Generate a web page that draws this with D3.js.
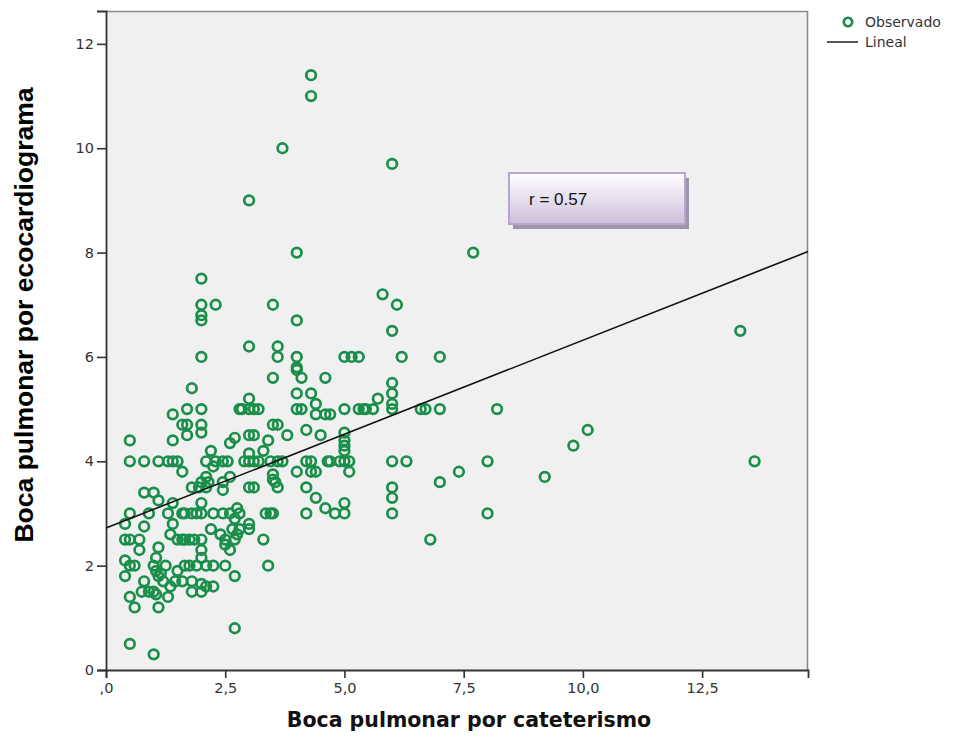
<!DOCTYPE html>
<meta charset="utf-8">
<script src="https://d3js.org/d3.v7.min.js"></script>
<style>
  body { margin: 0; background: #fff; }
  text { font-family: "DejaVu Sans", sans-serif; }
</style>
<div id="my_dataviz"></div>
<script>

// x = boca pulmonar por cateterismo, y = boca pulmonar por ecocardiograma
var cateterismo = [
  0.4,0.4,0.5,0.4,0.4,0.5,0.5,0.5,0.5,0.6,0.5,0.6,0.5,0.7,
  0.7,0.8,0.8,0.8,0.8,0.75,0.9,0.9,
  1.0,1.1,1.1,1.0,1.1,1.05,1.0,1.05,1.1,1.15,1.0,1.05,1.1,1.2,1.25,
  1.3,1.5,1.4,1.4,1.4,1.4,1.3,1.3,1.35,1.45,1.5,1.4,1.35,1.5,
  1.6,1.7,1.7,1.7,1.8,1.6,1.6,1.65,1.8,1.9,1.6,1.65,1.75,1.85,1.65,1.75,1.9,1.6,1.8,1.8,1.8,1.95,
  2.0,2.0,2.0,2.0,2.0,2.0,2.0,2.0,2.0,2.0,2.0,2.0,2.0,2.0,2.0,2.0,
  2.3,2.2,2.1,2.3,2.45,2.55,2.25,2.1,2.15,2.1,2.45,2.6,2.45,2.25,2.45,2.1,2.25,2.5,2.1,2.25,2.2,2.4,2.5,
  2.6,2.7,2.6,2.75,2.8,2.85,2.8,2.9,2.7,2.65,2.7,2.75,2.8,2.7,2.7,2.6,2.5,
  3.0,3.0,3.0,3.0,3.1,3.2,3.0,3.1,3.0,3.0,3.1,3.2,3.0,3.1,3.0,3.0,
  3.3,3.4,3.45,3.6,3.7,3.5,3.5,3.55,3.6,3.35,3.45,3.5,3.3,3.4,3.5,3.5,3.6,3.6,3.6,3.5,3.7,
  3.8,4.0,4.0,4.0,4.0,4.0,4.1,4.0,4.0,4.1,4.2,4.0,4.2,4.2,4.2,
  4.3,4.3,4.3,4.4,4.4,4.6,4.5,4.3,4.3,4.4,4.65,4.4,4.6,4.6,4.7,4.7,
  4.8,5.0,5.0,4.9,5.0,5.1,5.1,5.0,5.0,5.0,5.0,5.0,5.3,5.4,5.45,5.0,5.15,5.3,5.6,5.7,
  5.8,6.1,6.0,6.0,6.2,6.0,6.0,6.0,6.0,6.6,6.7,7.0,7.0,6.0,6.3,6.0,6.0,6.0,7.0,6.8,
  7.7,7.4,8.0,8.2,8.0,9.2,9.8,10.1,13.3,13.6
];
var ecocardiograma = [
  2.8,2.5,2.5,2.1,1.8,4.4,4.0,3.0,1.4,1.2,0.5,2.0,2.0,2.5,
  2.3,4.0,3.4,2.75,1.7,1.5,3.0,1.5,
  3.4,4.0,3.25,0.3,2.35,2.15,2.0,1.9,1.8,1.85,1.5,1.45,1.2,1.7,2.0,
  4.0,4.0,4.0,4.9,4.4,2.8,3.0,1.4,1.6,1.7,2.5,3.2,2.6,1.9,
  4.7,4.7,4.5,5.0,5.4,3.8,3.0,3.0,3.0,3.0,2.5,2.5,2.5,2.5,2.0,2.0,2.0,1.7,1.7,1.5,3.5,3.5,
  7.5,7.0,6.8,6.7,6.0,5.0,4.7,4.55,3.6,3.2,3.0,2.5,2.3,2.15,1.65,1.5,
  7.0,4.2,4.0,4.0,4.0,4.0,3.9,3.7,3.6,3.5,3.6,3.7,3.45,3.0,3.0,2.0,2.0,2.0,1.6,1.6,2.7,2.6,2.5,
  4.35,4.45,3.0,3.1,3.0,5.0,5.0,4.0,2.9,2.7,2.5,2.6,2.7,1.8,0.8,2.3,2.4,
  9.0,6.2,5.2,5.0,5.0,5.0,4.5,4.5,4.15,4.0,4.0,4.0,3.5,3.5,2.8,2.7,
  4.2,4.4,4.0,4.0,4.0,3.75,3.65,3.6,3.5,3.0,3.0,3.0,2.5,2.0,7.0,5.6,6.2,6.0,4.7,4.7,10.0,
  4.5,8.0,6.7,6.0,5.8,5.75,5.6,5.3,5.0,5.0,4.6,3.8,4.0,3.5,3.0,
  11.4,11.0,5.3,5.1,4.9,4.9,4.5,4.0,3.8,3.8,4.0,3.3,3.1,5.6,4.0,4.9,
  3.0,3.0,3.2,4.0,4.0,4.0,3.8,4.55,4.4,4.3,4.2,5.0,5.0,5.0,5.0,6.0,6.0,6.0,5.0,5.2,
  7.2,7.0,9.7,6.5,6.0,5.5,5.3,5.1,5.0,5.0,5.0,5.0,6.0,4.0,4.0,3.5,3.3,3.0,3.6,2.5,
  8.0,3.8,4.0,5.0,3.0,3.7,4.3,4.6,6.5,4.0
];

// linear fit
var fitIntercept = 2.72;
var fitSlope = 0.36;
var rLabel = "r = 0.57";

var xTicks = [0, 2.5, 5, 7.5, 10, 12.5];
var yTicks = [0, 2, 4, 6, 8, 10, 12];

var data = cateterismo.map(function(d, i) { return {x: d, y: ecocardiograma[i]}; });

var W = 954, H = 740;
var margin = {top: 11, right: 146, bottom: 70, left: 106};
var width = W - margin.left - margin.right,
    height = H - margin.top - margin.bottom;

var svg = d3.select("#my_dataviz")
  .append("svg")
    .attr("width", W)
    .attr("height", H);

var g = svg.append("g")
  .attr("transform", "translate(" + margin.left + "," + margin.top + ")");

var x = d3.scaleLinear().domain([0, 14.72]).range([0, width]);
var y = d3.scaleLinear().domain([0, 12.63]).range([height, 0]);

// plot background + frame
g.append("rect")
  .attr("width", width).attr("height", height)
  .attr("fill", "#f0f0f0");
g.append("path")
  .attr("d", "M0,0.5H" + (width - 0.5) + "V" + height)
  .attr("fill", "none").attr("stroke", "#8a8a8a").attr("stroke-width", 1.6);

// axes
var xAxis = g.append("g")
  .attr("transform", "translate(0," + height + ")")
  .call(d3.axisBottom(x).tickValues(xTicks).tickSizeOuter(0).tickSize(8).tickPadding(5)
    .tickFormat(function(d) { return d === 0 ? ",0" : d3.format(".1f")(d).replace(".", ","); }));
var yAxis = g.append("g")
  .call(d3.axisLeft(y).tickValues(yTicks).tickSizeOuter(0).tickSize(9).tickPadding(3));

[xAxis, yAxis].forEach(function(a) {
  a.select(".domain").attr("stroke", "#333").attr("stroke-width", 1.8);
  a.selectAll(".tick line").attr("stroke", "#333").attr("stroke-width", 1.6);
  a.selectAll(".tick text").attr("fill", "#333").style("font-size", "14.5px")
    .style("font-family", "DejaVu Sans, sans-serif");
});

// points
g.append("g")
  .selectAll("circle")
  .data(data)
  .enter()
  .append("circle")
    .attr("cx", function(d) { return x(d.x); })
    .attr("cy", function(d) { return y(d.y); })
    .attr("r", 4.8)
    .attr("fill", "none")
    .attr("stroke", "#1a8f4a")
    .attr("stroke-width", 2.7);

// fit line
var x0 = x.domain()[0], x1 = x.domain()[1];
g.append("line")
  .attr("x1", x(x0)).attr("y1", y(fitIntercept + fitSlope * x0))
  .attr("x2", x(x1)).attr("y2", y(fitIntercept + fitSlope * x1))
  .attr("stroke", "#111").attr("stroke-width", 1.6);

// r box
var defs = svg.append("defs");
var grad = defs.append("linearGradient").attr("id", "boxgrad")
  .attr("x1", 0).attr("y1", 0).attr("x2", 0).attr("y2", 1);
grad.append("stop").attr("offset", "0%").attr("stop-color", "#ffffff");
grad.append("stop").attr("offset", "100%").attr("stop-color", "#cdbfdc");

var box = svg.append("g").attr("transform", "translate(509,173)");
box.append("rect").attr("x", 4).attr("y", 5).attr("width", 176).attr("height", 51)
  .attr("fill", "#9d95aa");
box.append("rect").attr("width", 176).attr("height", 51)
  .attr("fill", "url(#boxgrad)").attr("stroke", "#b7a6cf").attr("stroke-width", 2);
box.append("text").attr("x", 20).attr("y", 32)
  .style("font-family", "Liberation Sans, Arial, sans-serif").style("font-size", "17px")
  .attr("fill", "#111").text(rLabel);

// legend
var legend = svg.append("g").attr("transform", "translate(848,22)");
legend.append("circle").attr("r", 4.2).attr("fill", "none")
  .attr("stroke", "#1a8f4a").attr("stroke-width", 2.6);
legend.append("text").attr("x", 17).attr("y", 5).style("font-size", "14px")
  .attr("fill", "#333").text("Observado");
legend.append("line").attr("x1", -21).attr("x2", 10).attr("y1", 20).attr("y2", 20)
  .attr("stroke", "#111").attr("stroke-width", 1.4);
legend.append("text").attr("x", 17).attr("y", 25).style("font-size", "14px")
  .attr("fill", "#333").text("Lineal");

// axis titles
svg.append("text")
  .attr("x", 469).attr("y", 727)
  .attr("text-anchor", "middle")
  .style("font-family", "DejaVu Sans, sans-serif").style("font-weight", "bold")
  .style("font-size", "20.5px").attr("fill", "#111")
  .text("Boca pulmonar por cateterismo");

svg.append("text")
  .attr("transform", "translate(33,315) rotate(-90)")
  .attr("text-anchor", "middle")
  .style("font-family", "Liberation Sans, Arial, sans-serif").style("font-weight", "bold")
  .style("font-size", "26.5px").attr("fill", "#000")
  .text("Boca pulmonar por ecocardiograma");

</script>
